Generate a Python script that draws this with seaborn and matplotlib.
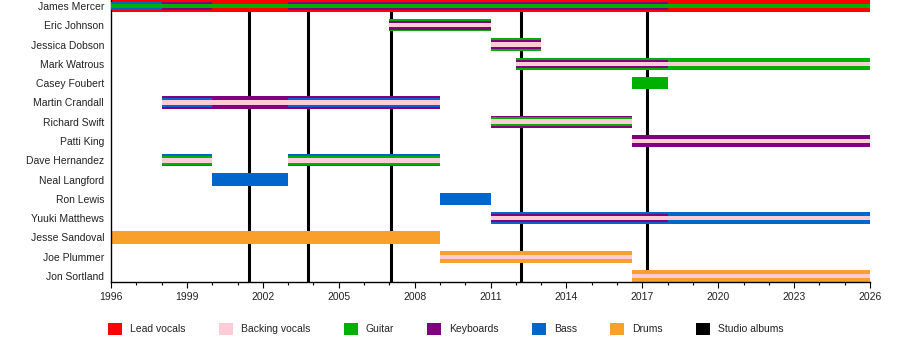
import matplotlib
matplotlib.use("Agg")
import matplotlib.pyplot as plt
import seaborn as sns
import pandas as pd
from matplotlib.patches import Patch
from matplotlib.ticker import MultipleLocator

# ---------------- data ----------------
members = ["James Mercer", "Eric Johnson", "Jessica Dobson", "Mark Watrous", "Casey Foubert",
           "Martin Crandall", "Richard Swift", "Patti King", "Dave Hernandez", "Neal Langford",
           "Ron Lewis", "Yuuki Matthews", "Jesse Sandoval", "Joe Plummer", "Jon Sortland"]

roles = ["Lead vocals", "Backing vocals", "Guitar", "Keyboards", "Bass", "Drums"]
role_colors = ["#ff0000", "#ffccd5", "#00b000", "#800080", "#0066cc", "#f9a02c"]

seg_member = ["James Mercer", "James Mercer", "James Mercer", "James Mercer", "James Mercer",
              "Eric Johnson", "Eric Johnson", "Eric Johnson",
              "Jessica Dobson", "Jessica Dobson", "Jessica Dobson",
              "Mark Watrous", "Mark Watrous", "Mark Watrous",
              "Casey Foubert",
              "Martin Crandall", "Martin Crandall", "Martin Crandall", "Martin Crandall",
              "Richard Swift", "Richard Swift", "Richard Swift",
              "Patti King", "Patti King",
              "Dave Hernandez", "Dave Hernandez", "Dave Hernandez",
              "Dave Hernandez", "Dave Hernandez", "Dave Hernandez",
              "Neal Langford",
              "Ron Lewis",
              "Yuuki Matthews", "Yuuki Matthews", "Yuuki Matthews",
              "Jesse Sandoval",
              "Joe Plummer", "Joe Plummer",
              "Jon Sortland", "Jon Sortland"]
seg_role = ["Lead vocals", "Bass", "Keyboards", "Keyboards", "Guitar",
            "Guitar", "Keyboards", "Backing vocals",
            "Guitar", "Keyboards", "Backing vocals",
            "Guitar", "Keyboards", "Backing vocals",
            "Guitar",
            "Keyboards", "Bass", "Bass", "Backing vocals",
            "Keyboards", "Guitar", "Backing vocals",
            "Keyboards", "Backing vocals",
            "Bass", "Guitar", "Backing vocals",
            "Bass", "Guitar", "Backing vocals",
            "Bass",
            "Bass",
            "Bass", "Keyboards", "Backing vocals",
            "Drums",
            "Drums", "Backing vocals",
            "Drums", "Backing vocals"]
seg_start = [1996, 1996, 1998, 2003, 1996,
             2007, 2007, 2007,
             2011, 2011, 2011,
             2012, 2012, 2012,
             2016.6,
             1998, 1998, 2003, 1998,
             2011, 2011, 2011,
             2016.6, 2016.6,
             1998, 1998, 1998,
             2003, 2003, 2003,
             2000,
             2009,
             2011, 2011, 2011,
             1996,
             2009, 2009,
             2016.6, 2016.6]
seg_end = [2026, 1998, 2000, 2018, 2026,
           2011, 2011, 2011,
           2013, 2013, 2013,
           2026, 2018, 2026,
           2018,
           2009, 2000, 2009, 2009,
           2016.6, 2016.6, 2016.6,
           2026, 2026,
           2000, 2000, 2000,
           2009, 2009, 2009,
           2003,
           2011,
           2026, 2018, 2026,
           2009,
           2016.6, 2016.6,
           2026, 2026]
seg_layer = [0, 1, 1, 1, 2,
             0, 1, 2,
             0, 1, 2,
             0, 1, 2,
             0,
             0, 1, 1, 2,
             0, 1, 2,
             0, 2,
             0, 1, 2,
             0, 1, 2,
             0,
             0,
             0, 1, 2,
             0,
             0, 2,
             0, 2]

album_years = [2001.45, 2003.78, 2007.05, 2012.2, 2017.2]
year_ticks = list(range(1996, 2027, 3))

# ---------------- style ----------------
sns.set_theme(style="ticks")
plt.rcParams["font.family"] = ["Liberation Sans", "DejaVu Sans"]

df = pd.DataFrame({"member": seg_member, "role": seg_role, "start": seg_start,
                   "end": seg_end, "layer": seg_layer})
df["row"] = df["member"].map({m: i for i, m in enumerate(members)})
df["dur"] = df["end"] - df["start"]
color_map = dict(zip(roles, role_colors))
layer_height = {0: 0.64, 1: 0.44, 2: 0.23}

fig = plt.figure(figsize=(9, 3.4), dpi=100)
ax = fig.add_axes([111 / 900, 1 - 282 / 340, 759 / 900, 282 / 340])

for yr in album_years:
    ax.axvline(yr, color="black", lw=2.2, zorder=1)

for layer in [0, 1, 2]:
    sub = df[df["layer"] == layer]
    ax.barh(sub["row"], sub["dur"], left=sub["start"], height=layer_height[layer],
            color=[color_map[r] for r in sub["role"]], linewidth=0, zorder=2 + layer)

ax.set_xlim(1996, 2026)
ax.set_ylim(14.31, -0.31)
ax.set_yticks(range(len(members)))
ax.set_yticklabels(members)
ax.set_xticks(year_ticks)
ax.xaxis.set_minor_locator(MultipleLocator(1))
ax.tick_params(axis="y", length=0, pad=5, labelsize=7.5, labelcolor="#222222")
ax.tick_params(axis="x", which="major", length=4, width=0.8, pad=3, labelsize=7.5,
               labelcolor="#222222", color="black")
ax.tick_params(axis="x", which="minor", length=2.5, width=0.8, color="black")
for s in ["top", "right"]:
    ax.spines[s].set_visible(False)
for s in ["left", "bottom"]:
    ax.spines[s].set_color("black")
    ax.spines[s].set_linewidth(1.0)
ax.grid(False)

handles = [Patch(facecolor=c, edgecolor="none") for c in role_colors]
handles.append(Patch(facecolor="black", edgecolor="none"))
labels = roles + ["Studio albums"]
fig.legend(handles, labels, loc="center", bbox_to_anchor=(446 / 900, 1 - 329 / 340),
           ncol=7, frameon=False, fontsize=7.5, handlelength=1.35, handleheight=1.35,
           handletextpad=0.75, columnspacing=3.2, labelcolor="#222222")

fig.savefig("out.png", dpi=100)
